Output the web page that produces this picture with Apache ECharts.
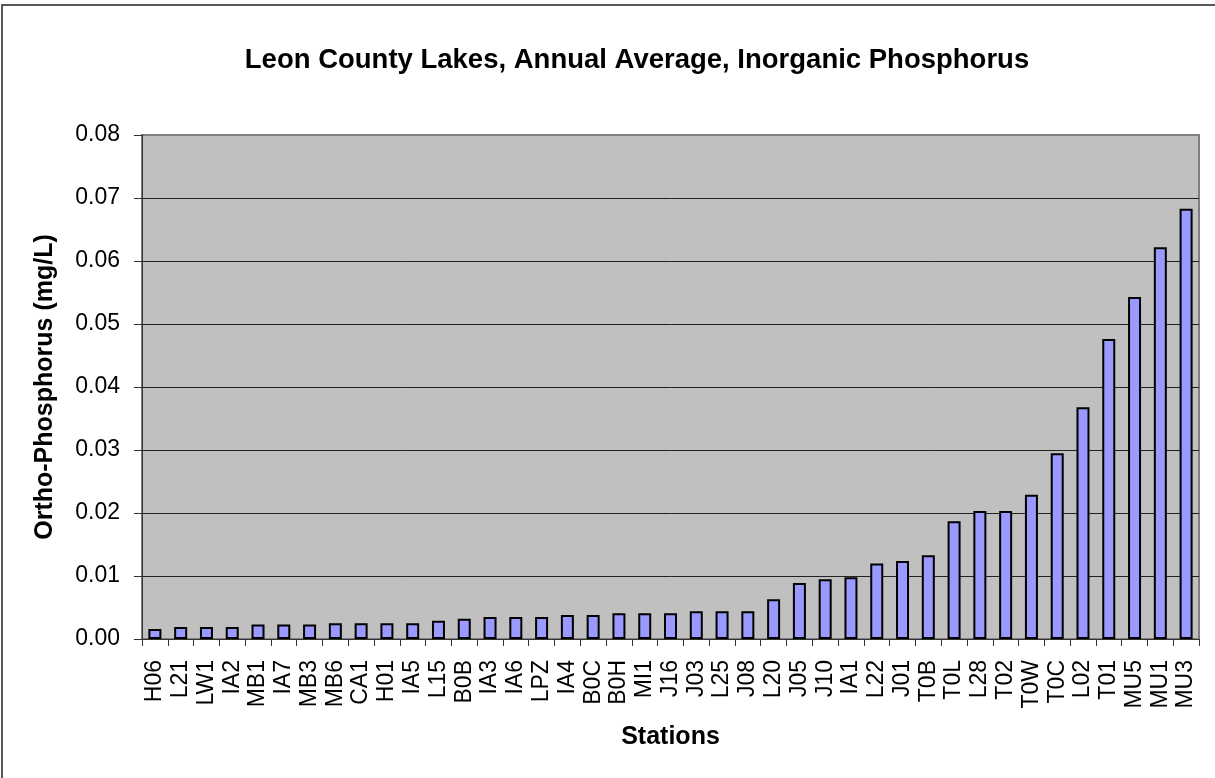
<!DOCTYPE html>
<html>
<head>
<meta charset="utf-8">
<script src="https://cdn.jsdelivr.net/npm/echarts@6/dist/echarts.min.js"></script>
<style>
	html, body { margin: 0; padding: 0; background: #fff; }
	#chart { width: 1215px; height: 778px; }
</style>
</head>
<body>
<div id="chart"></div>
<script>
var stations = [
	'H06', 'L21', 'LW1', 'IA2', 'MB1', 'IA7', 'MB3', 'MB6', 'CA1', 'H01', 'IA5',
	'L15', 'B0B', 'IA3', 'IA6', 'LPZ', 'IA4', 'B0C', 'B0H', 'MI1', 'J16', 'J03',
	'L25', 'J08', 'L20', 'J05', 'J10', 'IA1', 'L22', 'J01', 'T0B', 'T0L', 'L28',
	'T02', 'T0W', 'T0C', 'L02', 'T01', 'MU5', 'MU1', 'MU3'
]
var orthoP = [
	0.0016, 0.0019, 0.0019, 0.0019, 0.0023, 0.0023, 0.0023, 0.0025, 0.0025, 0.0025, 0.0025,
	0.0029, 0.0032, 0.0035, 0.0035, 0.0035, 0.0038, 0.0038, 0.0041, 0.0041, 0.0041, 0.0044,
	0.0044, 0.0044, 0.0063, 0.0089, 0.0095, 0.0098, 0.0120, 0.0124, 0.0133, 0.0187, 0.0203,
	0.0203, 0.0229, 0.0295, 0.0368, 0.0476, 0.0543, 0.0622, 0.0683
]
var yTicks = { min: 0, max: 0.08, interval: 0.01 }

var font = 'Arial, "Liberation Sans", sans-serif'
var myChart = echarts.init(document.getElementById('chart'))

var option = {
	animation: false,
	backgroundColor: '#fff',
	title: {
		text: 'Leon County Lakes, Annual Average, Inorganic Phosphorus',
		left: 632,
		top: 41,
		textAlign: 'center',
		textStyle: { fontFamily: font, fontSize: 27.5, fontWeight: 'bold', color: '#000' },
	},
	graphic: [
		{
			type: 'rect',
			shape: { x: 2, y: 5, width: 1230, height: 790 },
			style: { fill: 'none', stroke: '#222', lineWidth: 1.5 },
			silent: true,
		},
	],
	grid: {
		left: 142,
		right: 16,
		top: 135,
		bottom: 139,
		show: true,
		backgroundColor: '#C0C0C0',
		borderColor: '#808080',
		borderWidth: 2,
	},
	xAxis: {
		type: 'category',
		data: stations,
		name: 'Stations',
		nameLocation: 'middle',
		nameGap: 86,
		nameTextStyle: { fontFamily: font, fontSize: 25, fontWeight: 'bold', color: '#000' },
		axisLine: { lineStyle: { color: '#333', width: 1 } },
		axisTick: { show: true, length: 7, lineStyle: { color: '#333' } },
		axisLabel: {
			rotate: 90,
			interval: 0,
			margin: 21,
			fontFamily: font,
			fontSize: 23,
			color: '#000',
		},
	},
	yAxis: {
		type: 'value',
		min: yTicks.min,
		max: yTicks.max,
		interval: yTicks.interval,
		name: 'Ortho-Phosphorus (mg/L)',
		nameLocation: 'middle',
		nameGap: 84,
		nameTextStyle: { fontFamily: font, fontSize: 25, fontWeight: 'bold', color: '#000' },
		axisLine: { show: true, lineStyle: { color: '#333', width: 1 } },
		axisTick: { show: true, length: 8, lineStyle: { color: '#333' } },
		axisLabel: {
			margin: 22,
			fontFamily: font,
			fontSize: 23,
			color: '#000',
			formatter: function (v) { return v.toFixed(2) },
		},
		splitLine: {
			show: true,
			lineStyle: {
				color: ['#222', '#222', '#222', '#222', '#222', '#222', '#222', '#222', '#808080'],
				width: 1,
			},
		},
	},
	series: [
		{
			type: 'bar',
			data: orthoP,
			barWidth: 13,
			itemStyle: { color: '#9999FF', borderColor: '#000', borderWidth: 2 },
		},
	],
}

option && myChart.setOption(option)
</script>
</body>
</html>
